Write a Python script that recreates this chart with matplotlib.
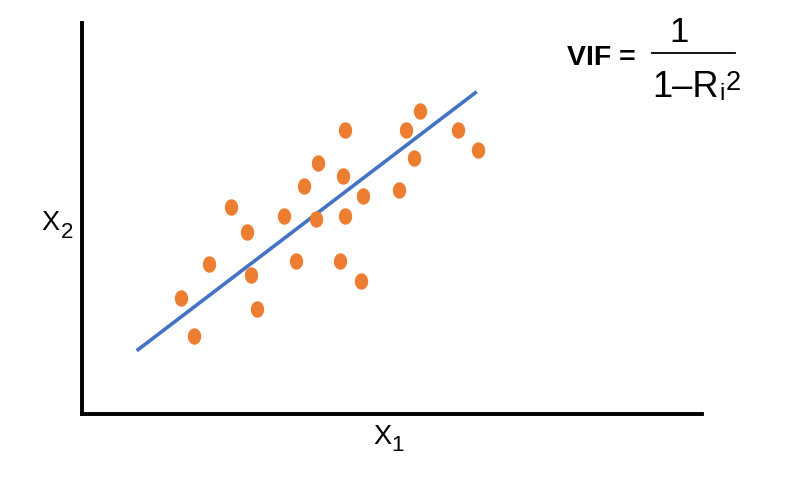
import matplotlib
matplotlib.use("Agg")
import matplotlib.pyplot as plt
import numpy as np
from matplotlib.path import Path
from matplotlib.lines import Line2D

# data (arbitrary units)
x_points = [99, 112, 126.7, 149, 165, 168.7, 174.7, 202, 213.7, 222.3, 236.3, 233.7,
            262.7, 261, 263.3, 258.3, 278.7, 281.3, 317.3, 324, 338.3, 332.3, 376.3, 396.3]
y_points = [116.3, 78, 150, 207.3, 182.3, 139.3, 105.3, 198, 152.7, 228.3, 251.3, 194.7,
            284.3, 237.7, 198, 153.3, 133, 217.7, 224.3, 284.3, 302.7, 256, 284.3, 264.3]
fit_x = [54.7, 394.7]
fit_y = [63.3, 322.3]

W, H = 800, 500
fig = plt.figure(figsize=(8, 5), dpi=100)
ax = fig.add_axes([82 / W, 1 - 414 / H, 620 / W, 391 / H])
ax.set_xlim(0, 620)
ax.set_ylim(0, 391)

# ellipse marker (taller than wide)
t = np.linspace(0, 2 * np.pi, 60)
ell = Path(np.column_stack([np.cos(t) * 13 / 16, np.sin(t)]), closed=True)

ax.plot(fit_x, fit_y, color="#4472C4", lw=2.6, solid_capstyle="butt", zorder=2)
ax.plot(x_points, y_points, linestyle="none", marker=ell, markersize=11.8,
        color="#ED7D31", markeredgewidth=0, zorder=3)

for s in ["top", "right"]:
    ax.spines[s].set_visible(False)
for s in ["left", "bottom"]:
    ax.spines[s].set_linewidth(2.8)
    ax.spines[s].set_color("black")
    ax.spines[s].set_capstyle("projecting")
ax.set_xticks([])
ax.set_yticks([])

def ftxt(px, py, s, size, weight="normal", ha="left"):
    fig.text(px / W, 1 - py / H, s, fontsize=size, fontweight=weight,
             family="Liberation Sans", ha=ha, va="baseline")

# axis labels
ftxt(41, 230, "X", 19.5)
ftxt(61, 238, "2", 16)
ftxt(373, 444, "X", 19.5)
ftxt(391, 451, "1", 16)

# formula
ftxt(567, 65, "VIF =", 20.5, weight="bold")
ftxt(679, 42, "1", 25, ha="center")
fig.add_artist(Line2D([652 / W, 735 / W], [1 - 53 / H, 1 - 53 / H], color="black", lw=1.3))
ftxt(652, 97, "1–R", 26)
ftxt(719.5, 100, "i", 17)
ftxt(726, 90, "2", 19.5)

fig.savefig("out.png", dpi=100)
